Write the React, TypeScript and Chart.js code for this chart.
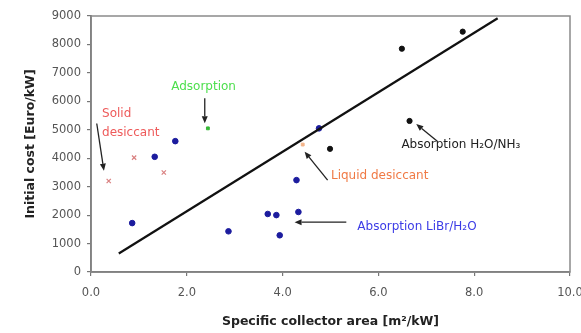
import { useEffect, useRef } from "react";
import { Chart, registerables } from "chart.js";

Chart.register(...registerables);

// ---- data ----
const h2oNh3X = [6.49, 7.76, 6.65, 4.99];
const h2oNh3Y = [7850, 8450, 5310, 4330];

const librX = [4.76, 1.76, 1.33, 0.86, 2.87, 3.69, 3.87, 3.94, 4.29, 4.33];
const librY = [5050, 4600, 4050, 1720, 1430, 2040, 2000, 1290, 3230, 2110];

const solidX = [0.37, 0.9, 1.52];
const solidY = [3200, 4020, 3500];

const adsorptionX = [2.44];
const adsorptionY = [5050];

const liquidX = [4.42];
const liquidY = [4480];

const trendX = [0.58, 8.49];
const trendY = [650, 8920];

const xTicks = [0, 2, 4, 6, 8, 10];
const yTicks = [0, 1000, 2000, 3000, 4000, 5000, 6000, 7000, 8000, 9000];

// annotation labels: text, x, y (data units), color, lines
const labelTexts = ["Solid\ndesiccant", "Adsorption", "Absorption H\u2082O/NH\u2083", "Liquid desiccant", "Absorption LiBr/H\u2082O"];
const labelX = [0.23, 2.35, 6.48, 5.01, 5.56];
const labelY = [5560, 6500, 4460, 3370, 1590];
const labelColors = ["#ee5a5a", "#4ddf4d", "#222222", "#f07a45", "#3c3ce6"];
const labelAlign = ["left", "center", "left", "left", "left"];

// arrows: from (x1,y1) to (x2,y2) in data units
const arrowX1 = [0.12, 2.375, 7.23, 4.94, 5.33];
const arrowY1 = [5220, 6110, 4600, 3230, 1750];
const arrowX2 = [0.27, 2.375, 6.79, 4.46, 4.25];
const arrowY2 = [3560, 5230, 5200, 4230, 1750];

const pts = (xs: number[], ys: number[]) => xs.map((x, i) => ({ x, y: ys[i] }));

export default function App() {
  const ref = useRef<HTMLCanvasElement | null>(null);

  useEffect(() => {
    document.body.style.margin = "0";
    document.body.style.overflow = "hidden";
    document.documentElement.style.overflow = "hidden";
    if (!ref.current) return;

    const framePlugin = {
      id: "frame",
      afterDraw(chart: any) {
        const { ctx, chartArea: a } = chart;
        ctx.save();
        ctx.strokeStyle = "#8a8a8a";
        ctx.lineWidth = 1.5;
        ctx.strokeRect(a.left, a.top, a.right - a.left, a.bottom - a.top);
        ctx.restore();
      },
    };

    const annotPlugin = {
      id: "annot",
      afterDatasetsDraw(chart: any) {
        const { ctx } = chart;
        const sx = chart.scales.x;
        const sy = chart.scales.y;
        ctx.save();
        // arrows
        ctx.strokeStyle = "#222";
        ctx.fillStyle = "#222";
        ctx.lineWidth = 1.3;
        for (let i = 0; i < arrowX1.length; i++) {
          const x1 = sx.getPixelForValue(arrowX1[i]);
          const y1 = sy.getPixelForValue(arrowY1[i]);
          const x2 = sx.getPixelForValue(arrowX2[i]);
          const y2 = sy.getPixelForValue(arrowY2[i]);
          const ang = Math.atan2(y2 - y1, x2 - x1);
          const hl = 7;
          const hw = 3;
          const bx = x2 - hl * Math.cos(ang);
          const by = y2 - hl * Math.sin(ang);
          ctx.beginPath();
          ctx.moveTo(x1, y1);
          ctx.lineTo(bx, by);
          ctx.stroke();
          ctx.beginPath();
          ctx.moveTo(x2, y2);
          ctx.lineTo(bx + hw * Math.sin(ang), by - hw * Math.cos(ang));
          ctx.lineTo(bx - hw * Math.sin(ang), by + hw * Math.cos(ang));
          ctx.closePath();
          ctx.fill();
        }
        // labels
        ctx.font = "12px 'DejaVu Sans'";
        ctx.textBaseline = "middle";
        for (let i = 0; i < labelTexts.length; i++) {
          const px = sx.getPixelForValue(labelX[i]);
          const py = sy.getPixelForValue(labelY[i]);
          ctx.fillStyle = labelColors[i];
          ctx.textAlign = labelAlign[i] as CanvasTextAlign;
          const lines = labelTexts[i].split("\n");
          lines.forEach((ln, j) => ctx.fillText(ln, px, py + j * 19));
        }
        ctx.restore();
      },
    };

    const chart = new Chart(ref.current, {
      type: "scatter",
      data: {
        datasets: [
          {
            type: "line",
            label: "trend",
            data: pts(trendX, trendY),
            borderColor: "#111",
            borderWidth: 2.2,
            pointRadius: 0,
            showLine: true,
            fill: false,
          } as any,
          {
            label: "H2O/NH3",
            data: pts(h2oNh3X, h2oNh3Y),
            backgroundColor: "#111",
            borderColor: "#111",
            pointRadius: 2.6,
          },
          {
            label: "LiBr/H2O",
            data: pts(librX, librY),
            backgroundColor: "#1c1c9e",
            borderColor: "#1c1c9e",
            pointRadius: 2.8,
          },
          {
            label: "Solid desiccant",
            data: pts(solidX, solidY),
            pointStyle: "crossRot",
            borderColor: "#d98080",
            borderWidth: 1.2,
            pointRadius: 3,
          },
          {
            label: "Adsorption",
            data: pts(adsorptionX, adsorptionY),
            pointStyle: "rect",
            backgroundColor: "#36b836",
            borderColor: "#36b836",
            pointRadius: 2,
          },
          {
            label: "Liquid desiccant",
            data: pts(liquidX, liquidY),
            pointStyle: "rect",
            backgroundColor: "#f3b48a",
            borderColor: "#f3b48a",
            pointRadius: 2,
          },
        ],
      },
      options: {
        animation: false,
        responsive: false,
        layout: { padding: { left: 0, right: 11, top: 16, bottom: 3.5 } },
        plugins: { legend: { display: false }, tooltip: { enabled: false } },
        scales: {
          x: {
            type: "linear",
            min: 0,
            max: 10,
            afterBuildTicks: (s: any) => {
              s.ticks = xTicks.map((v) => ({ value: v }));
            },
            afterFit: (s: any) => {
              s.height = 61 - 3.5;
              s.paddingLeft = 0;
              s.paddingRight = 0;
            },
            grid: { display: true, drawOnChartArea: false, drawTicks: true, tickLength: 4, color: "#777", lineWidth: 1.2 },
            border: { display: true, color: "#6a6a6a", width: 1.8 },
            ticks: {
              padding: 10,
              color: "#555",
              font: { family: "'DejaVu Sans'", size: 11.5 },
              callback: (v: any) => Number(v).toFixed(1),
            },
            title: {
              display: true,
              text: "Specific collector area [m\u00b2/kW]",
              color: "#222",
              font: { family: "'DejaVu Sans'", size: 12.5, weight: "bold" },
              padding: { top: 0, bottom: 0 },
            },
          },
          y: {
            type: "linear",
            min: 0,
            max: 9000,
            afterBuildTicks: (s: any) => {
              s.ticks = yTicks.map((v) => ({ value: v }));
            },
            afterFit: (s: any) => {
              s.width = 91;
              s.paddingTop = 0;
              s.paddingBottom = 0;
            },
            grid: { display: true, drawOnChartArea: false, drawTicks: true, tickLength: 4, color: "#777", lineWidth: 1.2 },
            border: { display: true, color: "#6a6a6a", width: 1.8 },
            ticks: {
              padding: 6,
              color: "#555",
              font: { family: "'DejaVu Sans'", size: 11.5 },
              callback: (v: any) => String(v),
            },
            title: {
              display: true,
              text: "Initial cost [Euro/kW]",
              color: "#222",
              font: { family: "'DejaVu Sans'", size: 12.5, weight: "bold" },
              padding: { top: 23.5, bottom: 0 },
            },
          },
        },
      },
      plugins: [annotPlugin, framePlugin],
    });

    return () => chart.destroy();
  }, []);

  return (
    <div style={{ width: 581, height: 333, background: "#fff" }}>
      <canvas ref={ref} width={581} height={333} style={{ display: "block", width: 581, height: 333 }} />
    </div>
  );
}
